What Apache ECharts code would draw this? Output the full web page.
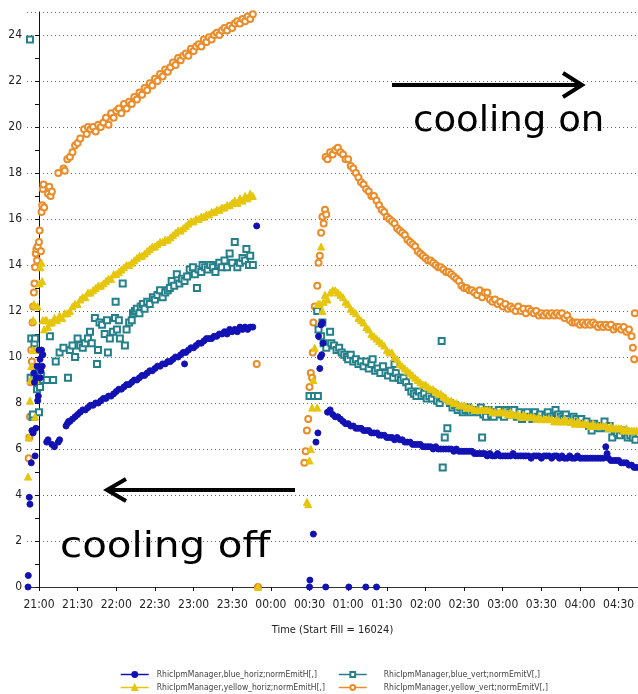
<!DOCTYPE html>
<html>
<head>
<meta charset="utf-8">
<script src="https://cdn.jsdelivr.net/npm/echarts@6/dist/echarts.min.js"></script>
<style>html,body{margin:0;padding:0;background:#fff}#c{width:638px;height:694px}</style>
</head>
<body>
<div id="c"></div>
<script>
// x values: minutes after 21:00 (Start Fill = 16024); y values: normalized emittance
const xTickLabels = ['21:00','21:30','22:00','22:30','23:00','23:30','00:00','00:30','01:00','01:30','02:00','02:30','03:00','03:30','04:00','04:30'];
const yTickLabels = [0,2,4,6,8,10,12,14,16,18,20,22,24];
const yMinorTicks = [1,3,5,7,9,11,13,15,17,19,21,23];

const seriesNames = [
  'RhicIpmManager,blue_horiz;normEmitH[,]',
  'RhicIpmManager,blue_vert;normEmitV[,]',
  'RhicIpmManager,yellow_horiz;normEmitH[,]',
  'RhicIpmManager,yellow_vert;normEmitV[,]'
];

const blueHoriz = [
  [-8.5,0],[-8.3,0.5],[-7.5,3.9],[-7,3.6],[-6,5.4],[-5.5,6.8],[-4.5,6.7],[-4,9.3],[-3.5,8.9],[-3,5.7],[-2.5,6.9],[-2,9.1],[-1.5,9.6],[-1,8.1],[-0.5,8.3],[0,10.3],[0.8,9.9],[1,9.1],[1.5,9.4],[2,10.3],[2.5,9.6],[3,10.1],
  [6,6.3],[7,6.4],[10,6.2],[12,6.1],[15,6.3],[16,6.4],
  [21,7.0],[22,7.1],[23,7.2],[24,7.2],[26,7.3],[28,7.4],[30,7.5],[32,7.6],[34,7.7],[36,7.7],[38,7.8],[40,7.9],[42,7.9],[44,8.0],[46,8.0],[48,8.1],[50,8.2],[52,8.2],[54,8.3],[56,8.3],[58,8.4],[60,8.5],[62,8.6],[64,8.6],[66,8.7],[68,8.8],[70,8.8],[72,8.9],[74,9.0],[76,9.0],[78,9.1],[80,9.2],[82,9.2],[84,9.3],[86,9.4],[88,9.4],[90,9.5],[92,9.6],[94,9.6],[96,9.7],[98,9.7],[100,9.8],[102,9.8],[104,9.9],[106,10.0],[108,10.0],[110,10.1],[112,10.2],[113,9.7],[114,10.2],[116,10.3],[118,10.4],[120,10.4],[122,10.5],[124,10.6],[126,10.6],[128,10.7],[130,10.8],[132,10.8],[134,10.8],[136,10.9],[138,10.9],[140,11.0],[142,11.0],[144,11.1],[146,11.0],[148,11.2],[150,11.1],[152,11.2],[154,11.1],[156,11.3],[158,11.2],[160,11.3],[162,11.2],[164,11.3],[166,11.3],[169,15.7],
  [210,0],[210.3,0.3],[213,2.3],[215,6.3],[216.5,6.7],[217,10.9],[218,9.5],[218.5,10.0],[219,11.4],[219.5,10.1],[220,11.5],[220.5,10.6],[222.6,0],
  [224,7.6],[226,7.7],[228,7.5],[230,7.4],[232,7.4],[234,7.3],[236,7.2],[238,7.1],[240,7.1],[240.5,0],[242,7.0],[244,7.0],[246,6.9],[248,6.9],[250,6.9],[252,6.8],[253.7,0],[254,6.8],[256,6.8],[258,6.7],[260,6.7],[262,0],[262.5,6.7],[264,6.6],[266,6.6],[268,6.6],[270,6.5],[272,6.5],[274,6.5],[276,6.4],[278,6.5],[280,6.4],[282,6.4],[284,6.3],[286,6.3],[288,6.3],[290,6.2],[292,6.2],[294,6.2],[296,6.2],[298,6.1],[300,6.1],[302,6.1],[304,6.1],[306,6.0],[308,6.1],[310,6.0],[312,6.0],[314,6.0],[316,6.0],[318,6.0],[320,6.0],[322,5.9],[324,6.0],[326,5.9],[328,5.9],[330,5.9],[332,5.9],[334,5.9],[336,5.9],[338,5.8],[340,5.8],[342,5.8],[344,5.8],[346,5.8],[348,5.7],[350,5.8],[352,5.7],[354,5.7],[356,5.8],[358,5.7],[360,5.7],[362,5.7],[364,5.7],[366,5.7],[368,5.8],[370,5.7],[372,5.7],[374,5.7],[376,5.7],[378,5.7],[380,5.7],[382,5.6],[384,5.7],[386,5.7],[388,5.7],[390,5.6],[392,5.7],[394,5.7],[396,5.7],[398,5.6],[400,5.7],[402,5.7],[404,5.6],[406,5.7],[408,5.6],[410,5.6],[412,5.7],[414,5.6],[416,5.6],[418,5.7],[420,5.6],[422,5.6],[424,5.6],[426,5.6],[428,5.6],[430,5.6],[432,5.6],[434,5.6],[436,5.6],[438,5.6],[440,6.1],[441,5.8],[442,5.6],[444,5.5],[446,5.5],[448,5.5],[450,5.5],[452,5.4],[454,5.4],[456,5.4],[458,5.3],[460,5.3],[462,5.2],[464,5.2]
];

const blueVert = [
  [-7,23.8],[-6.5,9.1],[-6,10.8],[-5,7.4],[-4.7,7.5],[-4,9.1],[-3.5,10.6],[-3,10.8],[-2,9.0],[-1.5,8.6],[-1,9.3],[0,7.6],[0.8,8.7],[1.5,9.2],[3,9.0],[6,9.0],[8.5,10.9],[11,9.0],[13,9.8],[16,10.2],[19,10.4],[22.5,9.1],[24,10.3],[26,10.5],[28,10.0],[30,10.8],[32,10.5],[34,10.4],[35.7,10.6],[38,10.8],[39.6,11.1],[41,10.6],[43.4,11.7],[45,9.7],[45.8,10.3],[47,11.5],[49,11.4],[51,11.0],[52.8,11.6],[53.5,10.2],[55,10.8],[57.4,11.1],[59,11.7],[59.5,12.4],[60.5,11.2],[62,11.6],[62.8,10.8],[65,13.2],[66.7,10.5],[68,11.2],[70,11.5],[72,11.6],[73,11.9],[74.5,12.0],[76,12.1],[78,11.9],[79,12.2],[80.7,12.3],[82,12.1],[84,12.4],[86,12.3],[88.4,12.6],[90,12.5],[92,12.7],[94,12.9],[96,12.6],[98,12.8],[100,12.9],[101.6,13.0],[103,13.3],[105,13.1],[107,13.6],[109,13.2],[111,13.4],[113,13.3],[115,13.5],[117,13.8],[119.5,13.9],[121,13.6],[122.6,13.0],[124,13.8],[126,13.7],[127,14.0],[129,13.9],[131,13.8],[133,14.0],[135,13.9],[137,13.7],[139,14.0],[140,14.1],[142,13.9],[144,14.2],[146,13.9],[148,14.5],[150,14.1],[152,15.0],[154,13.9],[156,14.1],[158,14.3],[160,14.2],[161,14.7],[163,14.0],[164,14.4],[166,14.0],
  [210,8.3],[213.5,8.3],[216.5,8.3],[216,12.0],[217,11.2],[219,10.9],[220,11.5],[221,10.6],[223,10.4],[226,11.1],[227,10.6],[229,10.5],[231,10.3],[233,10.4],[235,10.2],[237,10.1],[239,10.0],[240,9.9],[242,10.1],[244,9.8],[246,9.9],[248,9.7],[250,9.8],[252,9.6],[254,9.8],[256,9.5],[258,9.7],[259,9.9],[261,9.4],[263,9.5],[265,9.3],[267,9.6],[269,9.3],[271,9.2],[273,9.4],[275,9.1],[276,9.7],[277,9.3],[279,9.1],[281,9.0],[283,9.1],[285,8.9],[287,8.7],[289,8.5],[291,8.4],[293,8.3],[295,8.5],[297,8.3],[299,8.4],[301,8.2],[303,8.3],[305,8.2],[307,8.4],[309,8.1],[311,8.0],[312.6,10.7],[313,8.2],[313.4,5.2],[315,6.5],[317,6.9],[319,8.0],[321,7.8],[323,7.9],[325,7.7],[327,7.8],[329,7.6],[331,7.7],[333,7.8],[335,7.6],[337,7.7],[339,7.7],[341,7.6],[343,7.8],[344,6.5],[345,7.5],[347,7.4],[349,7.7],[351,7.5],[353,7.4],[355,7.6],[357,7.7],[359,7.5],[361,7.4],[363,7.7],[365,7.6],[367,7.5],[369,7.7],[371,7.4],[373,7.6],[375,7.3],[377,7.5],[379,7.6],[381,7.4],[383,7.3],[385,7.6],[387,7.4],[389,7.5],[391,7.3],[393,7.4],[395,7.6],[397,7.4],[399,7.3],[401,7.7],[403,7.5],[405,7.4],[407,7.3],[409,7.5],[411,7.3],[413,7.2],[415,7.4],[417,7.3],[419,7.2],[421,7.3],[423,7.1],[425,7.2],[427,7.0],[429,6.8],[431,7.1],[433,7.0],[435,6.9],[437,7.0],[439,7.2],[441,6.9],[443,7.0],[445,6.5],[447,6.8],[449,6.7],[451,6.6],[453,6.8],[455,6.7],[457,6.5],[459,6.6],[461,6.5],[463,6.4]
];

const yellowHoriz = [
  [-8.5,4.8],[-8,6.5],[-7,8.1],[-6.5,9.0],[-6,9.6],[-5,10.3],[-4.5,11.6],[-4,12.3],[-3,7.4],[-2.5,9.0],[-2,10.3],[-1,12.2],[0.5,13.2],[1,13.9],[2,14.1],[2.5,13.3],[3,11.6],[4,11.2],[5,11.6],[6,11.6],[7,11.3],[8.5,11.5],[10,11.5],[12,11.7],[14,11.6],[16,11.8],[18,11.7],[20,11.9],[22,11.9],[24,12.0],[26,12.2],[28,12.3],[30,12.3],[32,12.5],[34,12.6],[36,12.6],[38,12.8],[40,12.8],[42,12.9],[44,13.0],[46,13.1],[48,13.1],[50,13.2],[52,13.3],[54,13.4],[56,13.4],[58,13.6],[60,13.6],[62,13.7],[64,13.8],[66,13.9],[68,14.0],[70,14.0],[72,14.1],[74,14.2],[76,14.3],[78,14.4],[80,14.4],[82,14.5],[84,14.6],[86,14.7],[88,14.8],[90,14.8],[92,14.9],[94,15.0],[96,15.0],[98,15.1],[100,15.1],[102,15.2],[104,15.3],[106,15.4],[108,15.5],[110,15.5],[112,15.6],[114,15.7],[116,15.8],[118,15.9],[120,15.9],[122,16.0],[124,16.0],[126,16.1],[128,16.1],[130,16.2],[132,16.2],[134,16.3],[136,16.3],[138,16.4],[140,16.4],[142,16.5],[144,16.5],[146,16.6],[148,16.6],[150,16.7],[152,16.8],[154,16.7],[156,16.9],[158,16.8],[160,17.0],[162,16.9],[164,17.1],[166,17.0],[170,0],
  [208,3.7],[209,3.6],[210,5.5],[211,6.0],[212,7.8],[213,9.0],[214,10.4],[216,7.8],[216.5,12.3],[218,12.3],[219,14.8],[220,12.0],[221,12.4],[222,12.7],[224,12.5],[226,12.8],[228,12.9],[230,12.9],[232,12.8],[234,12.7],[236,12.6],[238,12.4],[240,12.3],[242,12.1],[244,12.0],[246,11.9],[248,11.7],[250,11.6],[252,11.5],[254,11.3],[256,11.2],[258,11.0],[260,10.9],[262,10.8],[264,10.7],[266,10.6],[268,10.5],[270,10.3],[272,10.2],[274,10.2],[276,10.0],[278,9.9],[280,9.7],[282,9.6],[284,9.5],[286,9.4],[288,9.3],[290,9.2],[292,9.1],[294,9.0],[296,8.9],[298,8.8],[300,8.8],[302,8.7],[304,8.6],[306,8.6],[308,8.5],[310,8.4],[312,8.4],[314,8.3],[316,8.2],[318,8.1],[320,8.1],[322,8.0],[324,8.0],[326,7.9],[328,7.9],[330,7.9],[332,7.8],[334,7.8],[336,7.8],[338,7.7],[340,7.7],[342,7.7],[344,7.7],[346,7.7],[348,7.7],[350,7.7],[352,7.6],[354,7.6],[356,7.6],[358,7.6],[360,7.6],[362,7.6],[364,7.5],[366,7.6],[368,7.5],[370,7.5],[372,7.5],[374,7.4],[376,7.5],[378,7.4],[380,7.4],[382,7.4],[384,7.4],[386,7.3],[388,7.4],[390,7.3],[392,7.3],[394,7.3],[396,7.3],[398,7.3],[400,7.2],[402,7.3],[404,7.2],[406,7.2],[408,7.3],[410,7.2],[412,7.2],[414,7.2],[416,7.1],[418,7.2],[420,7.1],[422,7.1],[424,7.1],[426,7.1],[428,7.0],[430,7.1],[432,7.0],[434,7.0],[436,7.0],[438,7.0],[440,7.0],[442,6.9],[444,7.0],[446,6.9],[448,6.9],[450,6.9],[452,6.9],[454,6.8],[456,6.9],[458,6.8],[460,6.8],[462,6.8],[464,6.8]
];

const yellowVert = [
  [-8,5.6],[-7.5,6.5],[-7,7.4],[-6.5,8.9],[-6,10.3],[-5.5,9.8],[-5,11.5],[-4.5,12.2],[-4,12.8],[-3.5,13.2],[-3,13.9],[-2.5,14.5],[-2,14.7],[-1.5,14.2],[-1,14.8],[0,15.0],[0.5,15.5],[1.5,14.6],[2,16.3],[2.5,16.6],[3,17.3],[3.5,17.5],[4,16.5],[7,17.1],[8,17.4],[9,17.0],[10,17.2],[15,18.0],[19,18.2],[20,18.1],[22,18.6],[24,18.7],[26,18.9],[28,19.2],[30,19.3],[32,19.5],[35,19.9],[37,19.7],[38,20.0],[40,19.9],[42,20.0],[44,19.8],[46,20.1],[48,20.0],[50,20.2],[52,20.4],[54,20.1],[56,20.6],[58,20.4],[60,20.7],[62,20.8],[64,20.6],[66,21.0],[68,20.8],[70,21.1],[72,21.0],[74,21.3],[76,21.2],[78,21.5],[80,21.4],[82,21.7],[84,21.6],[86,21.9],[88,21.8],[90,22.1],[92,22.0],[94,22.3],[96,22.2],[98,22.5],[100,22.4],[102,22.6],[104,22.8],[106,22.7],[108,23.0],[110,22.9],[112,23.1],[114,23.2],[116,23.1],[118,23.4],[120,23.3],[122,23.5],[124,23.6],[126,23.5],[128,23.8],[130,23.7],[132,23.9],[134,23.8],[136,24.0],[138,24.1],[140,24.0],[142,24.2],[144,24.3],[146,24.2],[148,24.4],[150,24.3],[152,24.5],[154,24.6],[156,24.5],[158,24.7],[160,24.6],[162,24.8],[164,24.7],[166,24.9],[169,9.7],[170,0],
  [206,5.4],[207,5.9],[208,6.8],[209,7.3],[210,8.7],[211,9.3],[212,9.1],[212.5,10.2],[213,11.5],[214,12.2],[216,13.1],[217,14.1],[218,14.4],[219,15.4],[220,16.1],[221,15.8],[222,16.4],[222.5,18.7],[223,16.2],[224,18.6],[226,18.9],[228,18.8],[230,19.0],[232,19.1],[234,18.9],[236,18.8],[238,18.6],[240,18.6],[242,18.3],[244,18.2],[246,18.0],[248,17.8],[250,17.6],[252,17.5],[254,17.3],[256,17.2],[258,17.0],[260,17.0],[262,16.8],[264,16.6],[266,16.4],[268,16.3],[270,16.1],[272,16.0],[274,15.9],[276,15.8],[278,15.6],[280,15.5],[282,15.4],[284,15.3],[286,15.1],[288,15.0],[290,14.9],[292,14.8],[294,14.6],[296,14.5],[298,14.4],[300,14.3],[302,14.2],[304,14.2],[306,14.1],[308,14.0],[310,13.9],[312,13.9],[314,13.8],[316,13.7],[318,13.7],[320,13.6],[322,13.5],[324,13.4],[326,13.3],[328,13.1],[330,13.0],[332,13.0],[334,12.9],[336,12.9],[338,12.8],[340,12.7],[342,12.9],[344,12.6],[346,12.8],[348,12.8],[350,12.5],[352,12.4],[354,12.5],[356,12.3],[358,12.4],[360,12.2],[362,12.3],[364,12.1],[366,12.2],[368,12.1],[370,12.0],[372,12.2],[374,12.0],[376,12.1],[378,11.9],[380,12.1],[382,12.0],[384,11.9],[386,12.0],[388,11.8],[390,11.9],[392,11.8],[394,11.9],[396,11.8],[398,11.9],[400,11.8],[402,11.9],[404,11.8],[406,11.9],[408,11.7],[410,11.8],[412,11.6],[414,11.5],[416,11.5],[418,11.5],[420,11.4],[422,11.5],[424,11.4],[426,11.5],[428,11.4],[430,11.5],[432,11.4],[434,11.3],[436,11.4],[438,11.3],[440,11.4],[442,11.3],[444,11.4],[446,11.2],[448,11.3],[450,11.3],[452,11.2],[454,11.3],[456,11.1],[458,11.2],[460,10.9],[461,10.4],[462,9.9],[462.5,11.9]
];

const colors = { blueHoriz:'#1212b4', blueVert:'#24808a', yellowHoriz:'#e6c60c', yellowVert:'#ea8c2a' };
const narrow = "'Liberation Sans Narrow','DejaVu Sans Condensed',sans-serif";

function mkSeries(name, data, symbol, size, color){
  return {
    name, type:'line', data, symbol, symbolSize:size, showAllSymbol:true,
    lineStyle:{width:0, opacity:0, color}, itemStyle:{color, borderColor:color, borderWidth:1},
    emphasis:{disabled:true}, animation:false
  };
}
function mkLegend(names, left, textPad){
  return {
    data:names, orient:'vertical', left, top:670, padding:0, itemGap:4,
    itemWidth:28, itemHeight:6, textStyle:{fontFamily:narrow, fontSize:8.5, color:'#444', padding:[0,0,0,textPad]},
    lineStyle:{width:1.5, opacity:1}, selectedMode:false
  };
}

const chart = echarts.init(document.getElementById('c'), null, {renderer:'canvas'});
chart.setOption({
  backgroundColor:'#fff',
  animation:false,
  grid:{left:27, right:0, top:12, bottom:107, containLabel:false},
  xAxis:[{
    type:'value', min:-9.3, max:465,
    name:'Time (Start Fill = 16024)', nameLocation:'middle', nameGap:38,
    nameTextStyle:{fontFamily:narrow, fontSize:11, color:'#222'},
    axisLine:{show:true, onZero:false, lineStyle:{color:'#111', width:1}},
    axisTick:{show:true, length:4, customValues:xTickLabels.map((_,i)=>i*30), lineStyle:{color:'#111'}},
    axisLabel:{customValues:xTickLabels.map((_,i)=>i*30), formatter:v=>xTickLabels[Math.round(v/30)], fontFamily:narrow, fontSize:12, color:'#222', margin:12},
    splitLine:{show:false}
  },{
    type:'value', position:'top', min:-9.3, max:465,
    axisLine:{show:true, lineStyle:{color:'#333', width:1}}, axisTick:{show:false}, axisLabel:{show:false}, splitLine:{show:false}
  }],
  yAxis:[{
    type:'value', min:0, max:25, interval:2,
    axisLine:{show:true, lineStyle:{color:'#111', width:1}},
    axisTick:{show:true, length:4, lineStyle:{color:'#111'}},
    axisLabel:{fontFamily:narrow, fontSize:12, color:'#222', margin:5, showMaxLabel:false,
      formatter:v=>yTickLabels.indexOf(v)>=0 ? String(v) : ''},
    splitLine:{show:true, lineStyle:{type:[1,3], color:'#666', width:1}}
  },{
    type:'value', min:0, max:25, position:'left',
    axisLine:{show:false}, axisLabel:{show:false}, splitLine:{show:false},
    axisTick:{show:true, length:4, customValues:yMinorTicks, lineStyle:{color:'#111'}}
  }],
  legend:[
    mkLegend([seriesNames[0], seriesNames[2]], 120, 3),
    mkLegend([seriesNames[1], seriesNames[3]], 338, 12)
  ],
  series:[
    mkSeries(seriesNames[3], yellowVert, 'emptyCircle', 6, colors.yellowVert),
    mkSeries(seriesNames[1], blueVert, 'emptyRect', 6, colors.blueVert),
    mkSeries(seriesNames[2], yellowHoriz, 'triangle', 7, colors.yellowHoriz),
    mkSeries(seriesNames[0], blueHoriz, 'circle', 6, colors.blueHoriz)
  ],
  graphic:[
    {type:'polyline', shape:{points:[[392,85],[580,85]]}, style:{stroke:'#000', lineWidth:4}, z:100},
    {type:'polyline', shape:{points:[[563,73],[582,85],[563,97]]}, style:{stroke:'#000', lineWidth:4, fill:null}, z:100},
    {type:'text', x:413, y:122, z:100, scaleX:1.03, style:{text:'cooling on', fontFamily:'DejaVu Sans', fontSize:36, fill:'#000', verticalAlign:'middle'}},
    {type:'polyline', shape:{points:[[108,490],[295,490]]}, style:{stroke:'#000', lineWidth:4}, z:100},
    {type:'polyline', shape:{points:[[126,479],[107,490],[126,501]]}, style:{stroke:'#000', lineWidth:4, fill:null}, z:100},
    {type:'text', x:60, y:548, z:100, scaleX:1.12, style:{text:'cooling off', fontFamily:'DejaVu Sans', fontSize:36, fill:'#000', verticalAlign:'middle'}}
  ]
});
</script>
</body>
</html>
